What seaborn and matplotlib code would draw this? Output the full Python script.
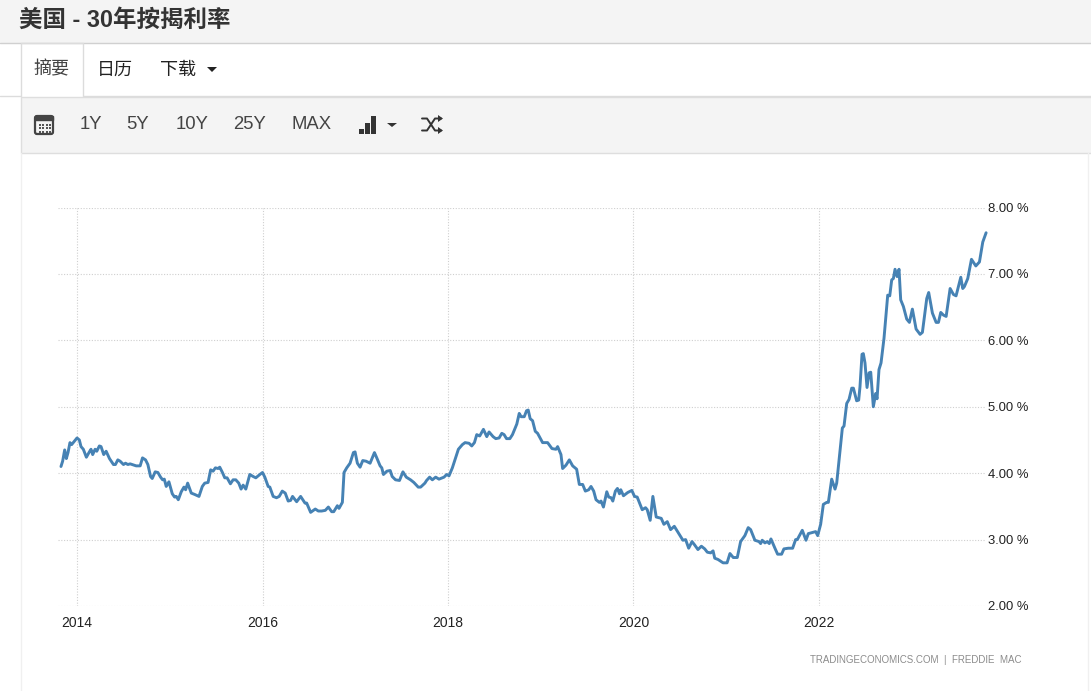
import matplotlib
matplotlib.use('Agg')
import matplotlib.pyplot as plt
from matplotlib.patches import Rectangle, Polygon, FancyBboxPatch
import seaborn as sns
import pandas as pd

# valores (fecha como año decimal, tasa en %)
years = [
    2013.827, 2013.845, 2013.867, 2013.885, 2013.903, 2013.924, 2013.942, 2013.971, 2014.000, 2014.025,
    2014.043, 2014.068, 2014.101, 2014.133, 2014.151, 2014.169, 2014.195, 2014.213, 2014.241, 2014.259,
    2014.288, 2014.314, 2014.350, 2014.393, 2014.414, 2014.440, 2014.465, 2014.501, 2014.523, 2014.548,
    2014.573, 2014.595, 2014.638, 2014.681, 2014.706, 2014.739, 2014.764, 2014.793, 2014.811, 2014.843,
    2014.872, 2014.901, 2014.923, 2014.941, 2014.962, 2014.991, 2015.027, 2015.052, 2015.070, 2015.092,
    2015.124, 2015.153, 2015.171, 2015.193, 2015.232, 2015.268, 2015.315, 2015.351, 2015.377, 2015.413,
    2015.441, 2015.467, 2015.492, 2015.521, 2015.539, 2015.568, 2015.593, 2015.618, 2015.654, 2015.683,
    2015.712, 2015.744, 2015.769, 2015.791, 2015.820, 2015.863, 2015.899, 2015.928, 2015.971, 2016.000,
    2016.025, 2016.061, 2016.079, 2016.115, 2016.151, 2016.180, 2016.213, 2016.245, 2016.277, 2016.303,
    2016.324, 2016.368, 2016.411, 2016.458, 2016.476, 2016.519, 2016.569, 2016.602, 2016.638, 2016.677,
    2016.710, 2016.746, 2016.768, 2016.807, 2016.825, 2016.861, 2016.879, 2016.908, 2016.944, 2016.980,
    2016.998, 2017.023, 2017.052, 2017.081, 2017.117, 2017.160, 2017.207, 2017.232, 2017.268, 2017.286,
    2017.304, 2017.341, 2017.377, 2017.398, 2017.434, 2017.477, 2017.514, 2017.550, 2017.596, 2017.632,
    2017.679, 2017.705, 2017.751, 2017.769, 2017.802, 2017.831, 2017.867, 2017.903, 2017.957, 2017.986,
    2018.011, 2018.047, 2018.112, 2018.155, 2018.184, 2018.227, 2018.256, 2018.285, 2018.310, 2018.342,
    2018.382, 2018.418, 2018.443, 2018.486, 2018.515, 2018.551, 2018.580, 2018.605, 2018.631, 2018.667,
    2018.695, 2018.742, 2018.768, 2018.789, 2018.822, 2018.847, 2018.865, 2018.886, 2018.912, 2018.941,
    2018.966, 2019.020, 2019.074, 2019.121, 2019.164, 2019.182, 2019.218, 2019.236, 2019.272, 2019.308,
    2019.344, 2019.387, 2019.416, 2019.452, 2019.481, 2019.517, 2019.542, 2019.571, 2019.596, 2019.632,
    2019.650, 2019.676, 2019.712, 2019.733, 2019.759, 2019.777, 2019.805, 2019.827, 2019.849, 2019.863,
    2019.892, 2019.939, 2019.982, 2020.011, 2020.040, 2020.094, 2020.130, 2020.148, 2020.180, 2020.209,
    2020.245, 2020.299, 2020.328, 2020.364, 2020.400, 2020.440, 2020.497, 2020.533, 2020.562, 2020.595,
    2020.631, 2020.659, 2020.695, 2020.732, 2020.768, 2020.796, 2020.832, 2020.858, 2020.876, 2020.912,
    2020.966, 2021.009, 2021.040, 2021.076, 2021.119, 2021.155, 2021.201, 2021.237, 2021.263, 2021.309,
    2021.353, 2021.371, 2021.388, 2021.417, 2021.442, 2021.464, 2021.482, 2021.525, 2021.554, 2021.597,
    2021.622, 2021.669, 2021.716, 2021.748, 2021.766, 2021.820, 2021.860, 2021.885, 2021.939, 2021.964,
    2021.986, 2022.018, 2022.047, 2022.083, 2022.101, 2022.137, 2022.173, 2022.191, 2022.252, 2022.270,
    2022.299, 2022.324, 2022.353, 2022.371, 2022.406, 2022.428, 2022.442, 2022.464, 2022.478, 2022.496,
    2022.518, 2022.540, 2022.558, 2022.586, 2022.612, 2022.626, 2022.647, 2022.669, 2022.701, 2022.741,
    2022.763, 2022.784, 2022.802, 2022.820, 2022.842, 2022.863, 2022.881, 2022.910, 2022.946, 2022.975,
    2023.007, 2023.047, 2023.090, 2023.115, 2023.162, 2023.183, 2023.223, 2023.263, 2023.288, 2023.313,
    2023.342, 2023.371, 2023.414, 2023.450, 2023.478, 2023.529, 2023.550, 2023.568, 2023.604, 2023.644,
    2023.691, 2023.730, 2023.766, 2023.802,
]
rates = [
    4.10, 4.18, 4.35, 4.22, 4.31, 4.46, 4.43, 4.48, 4.53, 4.50,
    4.40, 4.36, 4.24, 4.32, 4.36, 4.28, 4.36, 4.33, 4.41, 4.40,
    4.28, 4.33, 4.22, 4.13, 4.13, 4.20, 4.18, 4.13, 4.15, 4.13,
    4.14, 4.13, 4.11, 4.11, 4.23, 4.20, 4.13, 3.95, 3.92, 4.02,
    4.01, 3.94, 3.90, 3.91, 3.80, 3.87, 3.69, 3.64, 3.65, 3.60,
    3.72, 3.79, 3.75, 3.85, 3.70, 3.68, 3.65, 3.80, 3.85, 3.86,
    4.05, 4.03, 4.08, 4.07, 4.09, 4.01, 3.93, 3.93, 3.84, 3.90,
    3.90, 3.85, 3.76, 3.82, 3.76, 3.98, 3.95, 3.93, 3.98, 4.01,
    3.94, 3.80, 3.79, 3.65, 3.63, 3.65, 3.73, 3.70, 3.58, 3.59,
    3.65, 3.57, 3.65, 3.55, 3.55, 3.41, 3.46, 3.43, 3.43, 3.44,
    3.49, 3.42, 3.42, 3.51, 3.47, 3.56, 4.01, 4.08, 4.15, 4.31,
    4.32, 4.15, 4.09, 4.19, 4.18, 4.15, 4.31, 4.23, 4.11, 4.08,
    3.98, 4.03, 4.04, 3.95, 3.90, 3.89, 4.02, 3.94, 3.90, 3.86,
    3.79, 3.79, 3.85, 3.89, 3.94, 3.90, 3.94, 3.91, 3.94, 3.98,
    3.96, 4.08, 4.36, 4.43, 4.46, 4.45, 4.41, 4.46, 4.58, 4.56,
    4.66, 4.55, 4.62, 4.55, 4.52, 4.53, 4.60, 4.58, 4.52, 4.52,
    4.58, 4.74, 4.90, 4.85, 4.85, 4.94, 4.95, 4.82, 4.79, 4.63,
    4.60, 4.46, 4.46, 4.37, 4.36, 4.40, 4.28, 4.07, 4.12, 4.20,
    4.11, 4.06, 3.83, 3.83, 3.73, 3.75, 3.80, 3.73, 3.60, 3.56,
    3.58, 3.49, 3.72, 3.64, 3.63, 3.58, 3.73, 3.77, 3.69, 3.75,
    3.66, 3.71, 3.74, 3.65, 3.64, 3.45, 3.48, 3.45, 3.29, 3.65,
    3.34, 3.32, 3.23, 3.27, 3.15, 3.20, 3.07, 2.99, 3.00, 2.87,
    2.97, 2.92, 2.85, 2.90, 2.86, 2.81, 2.80, 2.83, 2.72, 2.70,
    2.65, 2.65, 2.79, 2.73, 2.73, 2.97, 3.06, 3.18, 3.15, 2.99,
    2.97, 2.94, 2.99, 2.95, 2.97, 2.94, 3.01, 2.87, 2.78, 2.78,
    2.86, 2.87, 2.87, 3.00, 3.00, 3.14, 2.99, 3.09, 3.11, 3.12,
    3.06, 3.23, 3.53, 3.56, 3.56, 3.91, 3.76, 3.85, 4.68, 4.71,
    5.05, 5.11, 5.28, 5.28, 5.09, 5.10, 5.30, 5.79, 5.80, 5.66,
    5.29, 5.51, 5.52, 5.00, 5.20, 5.12, 5.56, 5.66, 6.03, 6.68,
    6.67, 6.91, 6.93, 7.07, 6.96, 7.07, 6.61, 6.51, 6.32, 6.27,
    6.47, 6.17, 6.09, 6.12, 6.63, 6.72, 6.41, 6.27, 6.27, 6.42,
    6.38, 6.36, 6.78, 6.69, 6.67, 6.95, 6.78, 6.81, 6.93, 7.22,
    7.12, 7.18, 7.48, 7.62,
]
x_ticks = [2014, 2016, 2018, 2020, 2022]
y_ticks = [2, 3, 4, 5, 6, 7, 8]
y_labels = ['2.00 %', '3.00 %', '4.00 %', '5.00 %', '6.00 %', '7.00 %', '8.00 %']
range_buttons = ['1Y', '5Y', '10Y', '25Y', 'MAX']
tabs = ['摘要', '日历', '下载']

W, H = 1091, 691
sns.set_theme(style='white')
plt.rcParams['font.family'] = ['Liberation Sans', 'Noto Sans CJK SC', 'DejaVu Sans']

fig = plt.figure(figsize=(W / 100, H / 100), dpi=100)

# capa de fondo en pixeles para la interfaz de la pagina
ui = fig.add_axes([0, 0, 1, 1])
ui.set_xlim(0, W)
ui.set_ylim(H, 0)
ui.axis('off')

ui.add_patch(Rectangle((0, 0), W, 43, fc='#f4f4f4', ec='none'))
ui.plot([0, W], [43, 43], color='#d0d0d0', lw=1)
ui.text(19, 20.5, '美国 - 30年按揭利率', fontsize=16.9, fontweight='bold', color='#333333', va='center')

# pestañas
ui.plot([0, 20.5, 20.5, 82.5, 82.5, W], [96, 96, 43, 43, 96, 96], color='#dcdcdc', lw=1)
ui.text(52, 70, tabs[0], fontsize=13, color='#444444', ha='center', va='center')
ui.text(115, 70, tabs[1], fontsize=13, color='#222222', ha='center', va='center')
ui.text(178, 70, tabs[2], fontsize=13, color='#222222', ha='center', va='center')
ui.add_patch(Polygon([[207, 67], [217, 67], [212, 72]], fc='#222222', ec='none'))

# barra de herramientas
ui.add_patch(Rectangle((20.5, 97), W, 56, fc='#f4f4f4', ec='#dedede', lw=1))
ui.plot([20.5, 20.5], [153, H], color='#f0f0f0', lw=1)
ui.plot([1087.5, 1087.5], [153, H], color='#f0f0f0', lw=1)
for name, bx in zip(range_buttons, [91, 138, 192, 250, 312]):
    ui.text(bx, 124.5, name, fontsize=13.3, color='#444444', ha='center', va='center')

# icono calendario
ui.add_patch(FancyBboxPatch((35, 116), 18, 18, boxstyle='round,pad=0,rounding_size=2', fc='#f4f4f4', ec='#444444', lw=1.6))
ui.add_patch(Rectangle((35, 116), 18, 4, fc='#444444', ec='#444444', lw=1))
for row in [123.5, 127, 130.5]:
    for col in [38.5, 42, 45.5, 49]:
        ui.add_patch(Rectangle((col, row), 2, 2, fc='#555555', ec='none'))

# icono de barras
for bx, top in [(358.5, 129), (364.5, 123), (370.5, 116)]:
    ui.add_patch(Rectangle((bx, top), 5, 134 - top, fc='#333333', ec='none'))
ui.add_patch(Polygon([[387, 123], [397, 123], [392, 127]], fc='#333333', ec='none'))

# icono shuffle
ui.plot([422, 427, 435, 441], [118.5, 118.5, 130.5, 130.5], color='#333333', lw=1.4)
ui.plot([422, 427, 435, 441], [130.5, 130.5, 118.5, 118.5], color='#333333', lw=1.4)
ui.add_patch(Polygon([[438, 115], [443, 118.5], [438, 122]], fc='#333333', ec='none'))
ui.add_patch(Polygon([[438, 127], [443, 130.5], [438, 134]], fc='#333333', ec='none'))

ui.text(916, 660, 'TRADINGECONOMICS.COM  |  FREDDIE  MAC', fontsize=7.05, color='#8c8c8c',
        ha='center', va='center')

# grafico principal
left, right, top, bottom = 58, 985, 207.5, 606
ax = fig.add_axes([left / W, 1 - bottom / H, (right - left) / W, (bottom - top) / H])
ax.patch.set_alpha(0)

df = pd.DataFrame({'year': years, 'rate': rates})
sns.lineplot(data=df, x='year', y='rate', ax=ax, color='#4682b4', linewidth=2.1, errorbar=None, clip_on=False)

ax.set_xlim(2013.795, 2023.79)
ax.set_ylim(2, 8)
ax.set_xlabel('')
ax.set_ylabel('')
sns.despine(ax=ax, left=True, bottom=True, top=True, right=True)

ax.set_xticks(x_ticks)
ax.set_xticklabels([str(y) for y in x_ticks], fontsize=10, color='#222222')
ax.yaxis.tick_right()
ax.set_yticks(y_ticks)
ax.set_yticklabels(y_labels, fontsize=9.4, color='#222222')
ax.tick_params(axis='x', length=0, pad=7)
ax.tick_params(axis='y', length=0, pad=2.5)
ax.grid(True, axis='both', color='#cfcfcf', linestyle=(0, (1, 1.5)), linewidth=0.8)
ax.set_axisbelow(True)

fig.savefig('out.png', dpi=100)
